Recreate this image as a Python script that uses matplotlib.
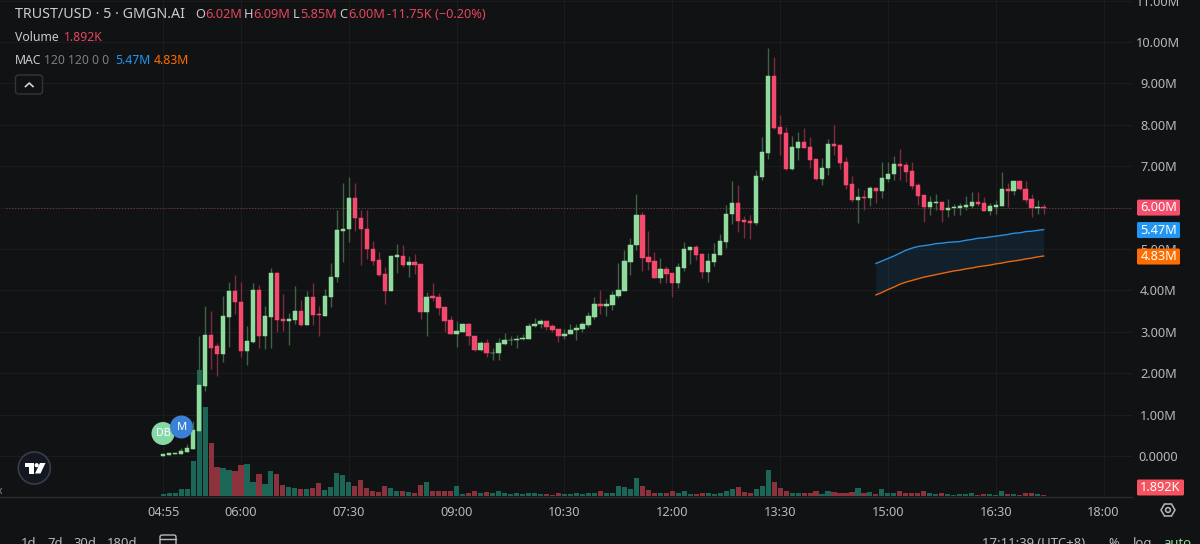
import matplotlib
matplotlib.use("Agg")
import matplotlib.pyplot as plt
from matplotlib.patches import Circle, FancyBboxPatch, Polygon, Rectangle
from matplotlib.ticker import FixedLocator, FixedFormatter

plt.rcParams['font.family'] = ['Noto Sans', 'DejaVu Sans']

# 5-minute candles, prices in millions, first bar at 04:55
first_minute = 295
opens = [.01,.02,.05,.05,.09,.18,.60,1.69,2.93,2.65,2.46,3.35,3.98,3.72,2.54,2.75,4.01,2.90,3.35,4.43,
         3.30,3.26,3.28,3.51,3.17,3.84,3.43,3.39,3.85,4.32,5.44,5.48,6.22,5.76,5.48,5.00,4.73,4.40,3.99,4.81,
         4.83,4.61,4.69,4.64,3.48,3.86,3.84,3.59,3.28,2.95,3.00,3.18,2.91,2.56,2.72,2.48,2.49,2.71,2.79,2.79,
         2.83,2.83,3.13,3.18,3.26,3.14,3.07,2.89,2.94,3.04,3.07,3.16,3.35,3.67,3.63,3.64,3.86,3.99,4.69,5.09,
         5.82,4.81,4.71,4.31,4.51,4.41,4.19,4.54,4.98,5.06,4.88,4.44,4.69,4.86,5.17,5.84,6.12,5.70,5.67,5.62,
         6.74,7.33,9.18,7.95,7.79,6.93,7.45,7.58,7.46,7.17,6.68,6.95,7.54,7.51,7.09,6.56,6.19,6.26,6.23,6.47,
         6.40,6.70,6.80,7.05,7.03,6.88,6.55,6.30,6.01,6.11,6.14,5.93,5.98,5.98,6.01,6.03,6.13,6.12,5.91,6.01,
         6.04,6.45,6.39,6.65,6.46,6.20,5.99,6.02]
highs = [.05,.07,.07,.19,.29,.85,2.90,3.63,3.51,2.72,3.86,4.20,4.37,4.20,3.14,4.17,4.13,3.62,4.53,4.45,
         3.91,3.46,4.11,3.78,3.99,4.17,3.62,4.03,4.65,5.93,6.60,6.73,6.60,5.93,5.93,5.19,4.92,4.56,4.83,5.12,
         5.10,4.83,4.87,4.64,3.96,4.18,3.94,3.59,3.37,3.26,3.20,3.22,2.91,2.78,2.83,2.62,2.84,2.96,2.91,2.93,
         2.95,3.22,3.33,3.32,3.27,3.18,3.07,3.06,3.18,3.18,3.24,3.48,3.85,4.01,3.80,3.99,4.65,4.98,5.27,6.34,
         5.89,5.43,4.93,4.79,4.59,4.41,4.65,5.17,5.06,5.10,4.88,4.90,5.14,5.36,6.06,6.64,6.55,5.80,5.82,6.92,
         7.70,9.85,9.63,8.24,7.94,7.73,7.83,7.93,7.71,7.17,7.20,7.66,7.99,7.51,7.23,6.76,6.47,6.42,6.51,6.49,
         7.09,7.09,7.25,7.41,7.11,7.09,6.60,6.30,6.28,6.32,6.14,6.20,6.08,6.10,6.28,6.38,6.38,6.25,6.10,6.18,
         6.86,6.60,6.65,6.67,6.65,6.34,6.18,6.09]
lows = [.01,.02,.05,.05,.09,.17,.53,1.58,2.10,1.93,2.28,2.64,3.44,2.38,2.21,2.74,2.60,2.58,2.62,3.00,
        3.02,2.67,3.20,3.14,3.16,3.16,2.91,3.39,3.61,4.21,4.69,5.18,5.44,4.61,4.77,4.61,4.35,3.67,3.99,4.43,
        4.56,4.33,4.40,3.31,2.90,3.75,3.41,3.00,2.95,2.64,2.99,2.68,2.53,2.54,2.40,2.33,2.33,2.67,2.67,2.61,
        2.79,2.83,3.11,3.08,3.04,2.99,2.75,2.83,2.94,2.79,3.00,3.12,3.32,3.43,3.38,3.53,3.81,3.99,4.38,4.98,
        4.46,4.49,4.31,4.19,4.18,3.85,4.06,4.48,4.64,4.73,4.30,4.20,4.59,4.86,5.02,5.60,5.41,5.27,5.25,5.59,
        6.67,7.17,7.89,7.26,6.92,6.92,7.15,7.45,6.95,6.67,6.55,6.79,7.27,6.93,6.46,6.14,5.62,5.93,6.04,6.10,
        6.22,6.63,6.67,6.67,6.63,6.45,6.06,5.66,5.82,5.94,5.66,5.77,5.83,5.83,5.93,5.98,6.05,5.91,5.83,5.85,
        6.04,6.02,6.30,6.42,6.10,5.78,5.85,5.85]
closes = [.05,.07,.07,.12,.19,.63,1.71,2.93,2.62,2.46,3.37,3.98,3.71,2.54,2.78,4.01,2.90,3.37,4.43,3.29,
          3.26,3.30,3.51,3.16,3.84,3.41,3.41,3.86,4.32,5.46,5.49,6.22,5.76,5.48,4.99,4.71,4.38,3.99,4.83,4.85,
          4.62,4.69,4.61,3.48,3.85,3.82,3.57,3.26,2.95,3.02,3.18,2.90,2.56,2.72,2.48,2.50,2.72,2.79,2.81,2.83,
          2.85,3.15,3.20,3.26,3.12,3.05,2.90,2.95,3.05,3.08,3.18,3.37,3.66,3.62,3.66,3.88,4.01,4.71,5.10,5.82,
          4.78,4.69,4.31,4.51,4.40,4.19,4.56,4.99,5.06,4.86,4.44,4.71,4.88,5.19,5.85,6.12,5.68,5.65,5.62,6.76,
          7.34,9.18,7.93,7.78,6.93,7.46,7.58,7.45,7.15,6.68,6.96,7.54,7.50,7.07,6.54,6.19,6.26,6.24,6.47,6.40,
          6.71,6.81,7.05,7.01,6.87,6.53,6.28,6.01,6.14,6.14,5.93,5.99,6.01,6.04,6.06,6.13,6.09,5.91,6.03,6.06,
          6.45,6.39,6.65,6.44,6.18,5.99,6.01,6.00]
# Volume per bar, in thousands
volume_k = [3.2,6.3,5.1,13.9,12.7,66.5,237.5,169.1,100.7,55.1,53.2,49.4,47.5,58.9,60.8,26.6,41.8,22.8,47.5,41.8,
            20.9,17.1,15.2,13.3,13.3,15.2,24.7,11.4,17.1,43.7,39.9,26.6,19.0,30.4,15.2,9.5,7.6,19.0,15.2,9.5,
            9.5,7.6,5.7,20.9,26.6,9.5,9.5,9.5,9.5,19.0,3.8,5.7,9.5,5.7,7.6,5.7,9.5,5.7,3.8,5.7,
            3.8,5.7,5.7,3.8,3.8,2.8,5.7,3.8,3.8,5.7,3.8,5.7,5.7,9.5,5.7,5.7,19.0,17.1,13.3,34.2,
            19.0,11.4,5.7,5.7,5.7,9.5,5.7,9.5,3.8,3.8,5.7,5.7,3.8,5.7,9.5,13.3,17.1,7.6,5.7,13.3,
            19.0,49.4,26.6,15.2,9.5,5.7,5.7,5.7,5.7,9.5,3.8,9.5,7.6,5.7,5.7,7.6,15.2,5.7,7.6,3.8,
            13.3,5.7,5.7,9.5,5.7,5.7,5.7,9.5,5.7,3.8,5.7,3.8,2.8,3.8,3.8,5.7,2.8,3.8,3.8,2.8,
            9.5,3.8,3.8,2.8,5.7,5.7,3.8,1.892]
# 120-period moving averages, available from 14:50 onward
ma_start_bar = 119
ma_fast = [4.65,4.71,4.77,4.83,4.90,4.97,5.02,5.06,5.08,5.10,5.13,5.14,5.16,5.17,5.18,5.21,5.23,5.26,5.27,5.29,
           5.31,5.33,5.35,5.38,5.39,5.42,5.43,5.45,5.47]
ma_slow = [3.89,3.95,4.02,4.08,4.15,4.20,4.24,4.28,4.32,4.35,4.38,4.41,4.44,4.47,4.49,4.52,4.54,4.57,4.59,4.61,
           4.64,4.66,4.69,4.71,4.73,4.76,4.78,4.81,4.83]
price_ticks = [0,1,2,3,4,5,6,7,8,9,10,11]
price_labels = ['0.0000','1.00M','2.00M','3.00M','4.00M','5.00M','6.00M','7.00M','8.00M','9.00M','10.00M','11.00M']
time_ticks = [295,360,450,540,630,720,810,900,990,1080]
time_labels = ['04:55','06:00','07:30','09:00','10:30','12:00','13:30','15:00','16:30','18:00']

BG = '#111213'
GRID = '#1b1c1e'
UP, DOWN = '#8fdc9c', '#f5496d'
UP_WICK, DOWN_WICK = '#3f6247', '#7c2b40'
UP_VOL, DOWN_VOL = '#1c6658', '#8c323c'
TXT = '#b6b8bd'

W, H = 1200, 544
fig = plt.figure(figsize=(W/100, H/100), dpi=100, facecolor=BG)
pane_w, pane_h = 1132, 496
box = [0, 1-pane_h/H, pane_w/W, pane_h/H]

# Volume pane shares the pane rectangle and sits under the price axes
vol = fig.add_axes(box, facecolor=BG)
ax = fig.add_axes(box, facecolor='none', sharex=vol)

minutes = [first_minute + 5*i for i in range(len(closes))]
x0_min = 360 - 241*5/5.99
xlim = (x0_min, x0_min + pane_w*5/5.99)
vol.set_xlim(xlim)
ax.set_ylim(-40/41.4, 456/41.4)
vol.set_ylim(0, 496*1.892)

# Price grid lives on the lower axes so the volume bars cover it
vol.hlines(price_ticks, 0, 1, transform=ax.get_yaxis_transform(), color=GRID, linewidth=0.8, zorder=1)
vol.bar(minutes, volume_k, width=4.25, linewidth=0,
        color=[UP_VOL if c >= o else DOWN_VOL for o, c in zip(opens, closes)], zorder=2)

for m, o, h, l, c in zip(minutes, opens, highs, lows, closes):
    up = c >= o
    ax.vlines(m, l, h, color=UP_WICK if up else DOWN_WICK, linewidth=1.0, zorder=3)
    ax.bar(m, abs(c-o), bottom=min(o, c), width=3.7, color=UP if up else DOWN,
           edgecolor=UP if up else DOWN, linewidth=0.35, zorder=4)

ma_minutes = minutes[ma_start_bar:]
ax.fill_between(ma_minutes, ma_slow, ma_fast, color='#2196f3', alpha=0.11, linewidth=0, zorder=2)
ax.plot(ma_minutes, ma_fast, color='#2a8fe0', linewidth=1.0, zorder=3)
ax.plot(ma_minutes, ma_slow, color='#e8660f', linewidth=1.0, zorder=3)
ax.hlines(closes[-1], x0_min + 6*5/5.99, xlim[1], color='#6b3a44', linewidth=0.8,
          linestyle=(0, (1, 1.6)), zorder=2)

for a in (ax, vol):
    for s in a.spines.values():
        s.set_visible(False)
vol.yaxis.set_visible(False)
vol.xaxis.set_major_locator(FixedLocator(time_ticks))
vol.xaxis.set_major_formatter(FixedFormatter(time_labels))
vol.tick_params(axis='x', length=0, pad=7, labelsize=9.2, labelcolor=TXT)
vol.grid(axis='x', color=GRID, linewidth=0.8, zorder=0)
ax.xaxis.set_visible(False)
ax.yaxis.tick_right()
ax.yaxis.set_major_locator(FixedLocator(price_ticks))
ax.yaxis.set_major_formatter(FixedFormatter(price_labels))
ax.tick_params(axis='y', length=0, pad=19, labelsize=9.2, labelcolor=TXT)
for t in ax.get_yticklabels():
    t.set_ha('center')

# Overlay in pixel units for the legend, badges, markers and toolbar
ov = fig.add_axes([0, 0, 1, 1], facecolor='none', zorder=5)
ov.set_xlim(0, W)
ov.set_ylim(H, 0)
ov.axis('off')
ov.plot([0, pane_w], [496.5, 496.5], color='#2a2c33', linewidth=1)

def price_px(v):
    return 456 - 41.4*v

def badge(y, label, color, right=1180):
    ov.add_patch(FancyBboxPatch((1137, y-8), right-1137, 16, boxstyle='round,pad=0,rounding_size=1.5',
                                fc=color, ec='none', zorder=6))
    ov.text(1159 if right == 1180 else 1160, y+0.3, label, color='white', fontsize=9.2, fontweight='bold',
            ha='center', va='center', zorder=7)

badge(price_px(closes[-1]), '6.00M', '#f4506e')
badge(price_px(ma_fast[-1]) + 0.5, '5.47M', '#2196f3')
badge(price_px(ma_slow[-1]) + 0.5, '4.83M', '#ff6d00')
badge(487.5, '1.892K', '#f7525f', right=1184)

def run(y, parts, size=9.2):
    for x, s, col in parts:
        ov.text(x, y, s, color=col, fontsize=size, ha='left', va='center', zorder=7)

RED = '#e5455f'
ov.text(15, 14.5, 'TRUST/USD · 5 · GMGN.AI', color='#c9cbd0', fontsize=10.3, va='center')
run(14.5, [(195, 'O', '#c9cbd0'), (205, '6.02M', RED), (244, 'H', '#c9cbd0'), (253, '6.09M', RED),
           (293, 'L', '#c9cbd0'), (300, '5.85M', RED), (339, 'C', '#c9cbd0'), (348, '6.00M', RED),
           (387, '-11.75K (−0.20%)', RED)])
run(37.5, [(15, 'Volume', '#c9cbd0'), (64, '1.892K', RED)], 8.8)
run(61, [(15, 'MAC', '#c9cbd0'), (44, '120 120 0 0', '#7d7f85'), (115, '5.47M', '#2196f3'), (154, '4.83M', '#ff6d00')], 8.8)

ov.add_patch(FancyBboxPatch((15.5, 75), 27, 19, boxstyle='round,pad=0,rounding_size=3',
                            fc=BG, ec='#33353a', lw=1))
ov.plot([25.5, 29.3, 33], [86.5, 83, 86.5], color='#d0d2d6', lw=1.2)

# Trade markers near the start of the series
ov.add_patch(Circle((163, 433.5), 11.5, fc='#86d9a5', ec='none', zorder=6))
ov.text(163, 433.5, 'DB', color='white', fontsize=7.8, fontweight='bold', ha='center', va='center', zorder=8)
ov.add_patch(Circle((181.5, 427), 11.5, fc='#3a80d5', ec='none', zorder=7))
ov.text(181.5, 427, 'M', color='white', fontsize=8, fontweight='bold', ha='center', va='center', zorder=8)

# Brand badge
ov.add_patch(Circle((34.3, 468), 16, fc='#131722', ec='#3a3d45', lw=1.2, zorder=6))
ov.add_patch(Polygon([(24.5, 463), (33.5, 463), (33.5, 473.5), (28.7, 473.5), (28.7, 467), (24.5, 467)],
                     fc='white', ec='none', zorder=7))
ov.add_patch(Circle((36.7, 465.2), 2.1, fc='white', ec='none', zorder=7))
ov.add_patch(Polygon([(40, 463), (45.5, 463), (40.5, 473.5), (35, 473.5)], fc='white', ec='none', zorder=7))
ov.text(0, 491, 'x', color='#8a8c90', fontsize=7.5, ha='center', va='center')

# Settings hexagon
ov.add_patch(Polygon([(1161, 510), (1164.5, 504), (1171.5, 504), (1175, 510), (1171.5, 516), (1164.5, 516)],
                     fc='none', ec='#b6b8bd', lw=1.1, zorder=6))
ov.add_patch(Circle((1168, 510), 2.4, fc='none', ec='#b6b8bd', lw=1.1, zorder=6))

# Bottom toolbar, running past the lower edge
for x, s, col in [(21, '1d', TXT), (47, '7d', TXT), (73, '30d', TXT), (107, '180d', TXT),
                  (982, '17:11:39 (UTC+8)', TXT), (1108, '%', TXT), (1133, 'log', TXT), (1163, 'auto', '#8fdc9c')]:
    ov.text(x, 543.5, s, color=col, fontsize=9.4, ha='left', va='center', clip_on=False)
ov.add_patch(FancyBboxPatch((160, 535), 16, 14, boxstyle='round,pad=0,rounding_size=2', fc='none', ec='#b6b8bd', lw=1))
ov.plot([160, 176], [539, 539], color='#b6b8bd', lw=1)

fig.savefig('out.png', dpi=100, facecolor=BG)
